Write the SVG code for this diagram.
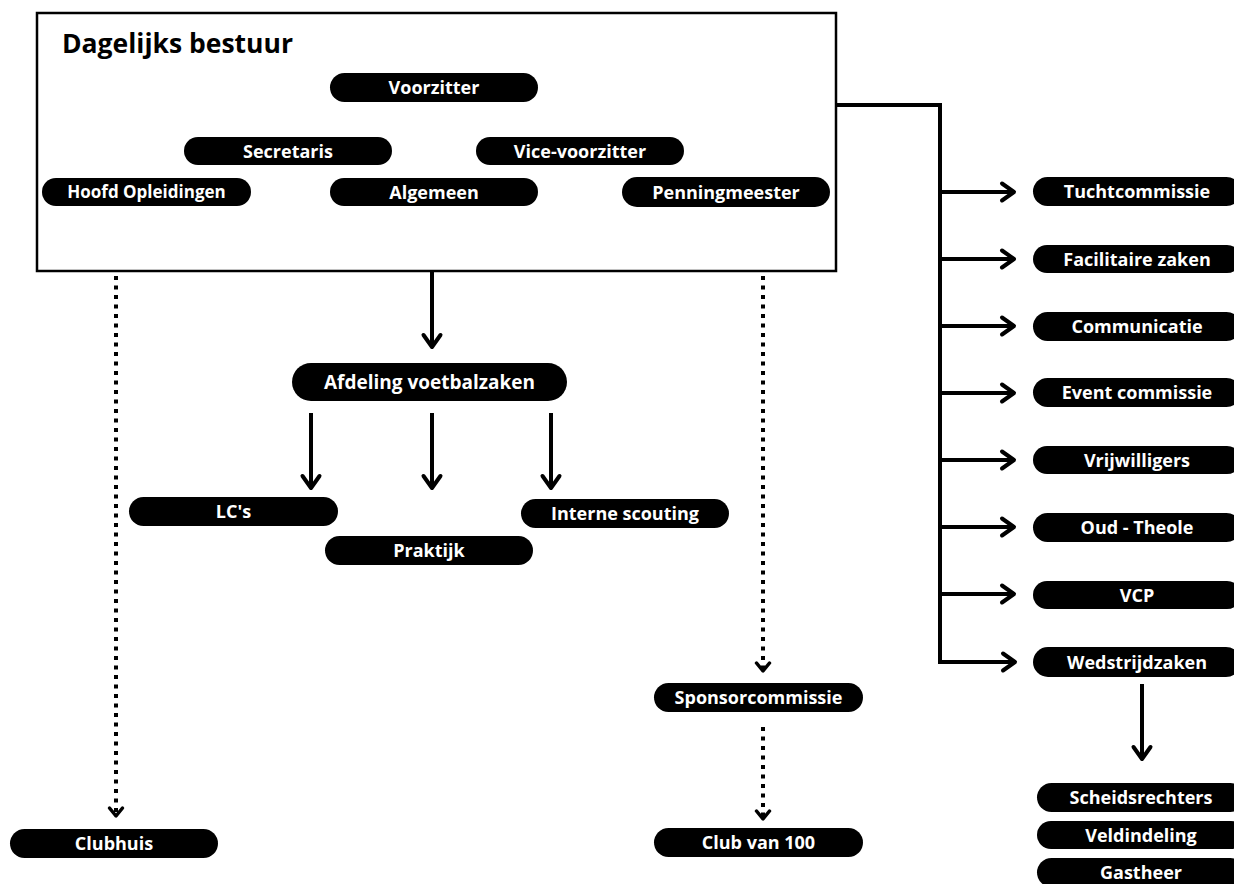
<svg xmlns="http://www.w3.org/2000/svg" width="1234" height="884" viewBox="0 0 1234 884">
<style>
.pill{fill:#000}
.lbl{font-family:"Open Sans","Liberation Sans",sans-serif;font-weight:700;fill:#fff;text-anchor:middle;font-size:18px}
.sm{font-size:17px}
.big{font-size:19px}
.ln{stroke:#000;stroke-width:4;fill:none}
.dot{stroke:#000;stroke-width:4;fill:none;stroke-dasharray:4 5.5}
.title{font-family:"Open Sans","Liberation Sans",sans-serif;font-weight:700;font-size:26.5px;fill:#000}
</style>
<defs>
<marker id="ah" markerUnits="userSpaceOnUse" viewBox="-16 -12 20 24" refX="0" refY="0" markerWidth="20" markerHeight="24" orient="auto">
<path d="M-12,-8.5 L0,0 L-12,8.5" fill="none" stroke="#000" stroke-width="4" stroke-linecap="round" stroke-linejoin="round"/>
</marker>
<marker id="ahs" markerUnits="userSpaceOnUse" viewBox="-16 -12 20 24" refX="0" refY="0" markerWidth="20" markerHeight="24" orient="auto">
<path d="M-8,-6.5 L0,0 L-8,6.5" fill="none" stroke="#000" stroke-width="3.5" stroke-linecap="round" stroke-linejoin="round"/>
</marker>
</defs>
<rect width="1234" height="884" fill="#fff"/>

<g id="connectors">
<path class="ln" d="M836,105 H940 V662"/>
<line class="ln" x1="940" y1="192" x2="1014" y2="192" marker-end="url(#ah)"/>
<line class="ln" x1="940" y1="259" x2="1014" y2="259" marker-end="url(#ah)"/>
<line class="ln" x1="940" y1="326" x2="1014" y2="326" marker-end="url(#ah)"/>
<line class="ln" x1="940" y1="393" x2="1014" y2="393" marker-end="url(#ah)"/>
<line class="ln" x1="940" y1="460" x2="1014" y2="460" marker-end="url(#ah)"/>
<line class="ln" x1="940" y1="527" x2="1014" y2="527" marker-end="url(#ah)"/>
<line class="ln" x1="940" y1="594" x2="1014" y2="594" marker-end="url(#ah)"/>
<path class="ln" d="M938,662 H1015" marker-end="url(#ah)"/>
<line class="ln" x1="1142" y1="684" x2="1142" y2="759" marker-end="url(#ah)"/>
<line class="ln" x1="432" y1="272" x2="432" y2="347" marker-end="url(#ah)"/>
<line class="ln" x1="311" y1="413" x2="311" y2="488" marker-end="url(#ah)"/>
<line class="ln" x1="432" y1="413" x2="432" y2="488" marker-end="url(#ah)"/>
<line class="ln" x1="551" y1="413" x2="551" y2="488" marker-end="url(#ah)"/>
<line class="dot" x1="116" y1="276" x2="116" y2="816" marker-end="url(#ahs)"/>
<line class="dot" x1="763" y1="276" x2="763" y2="671" marker-end="url(#ahs)"/>
<line class="dot" x1="763" y1="727" x2="763" y2="819" marker-end="url(#ahs)"/>
</g>

<g id="dagelijks-bestuur">
<rect x="37" y="13" width="799" height="258" fill="#fff" stroke="#000" stroke-width="2.5"/>
<text class="title" x="62" y="53">Dagelijks bestuur</text>
</g>
<g id="voorzitter"><rect class="pill" x="330" y="73" width="208" height="29" rx="14.5"/><text class="lbl" x="434" y="94">Voorzitter</text></g>
<g id="secretaris"><rect class="pill" x="184" y="137" width="208" height="28" rx="14"/><text class="lbl" x="288" y="157.5">Secretaris</text></g>
<g id="vice-voorzitter"><rect class="pill" x="476" y="137" width="208" height="28" rx="14"/><text class="lbl" x="580" y="157.5">Vice-voorzitter</text></g>
<g id="hoofd-opleidingen"><rect class="pill" x="42" y="178" width="209" height="28" rx="14"/><text class="lbl sm" x="146.5" y="198">Hoofd Opleidingen</text></g>
<g id="algemeen"><rect class="pill" x="330" y="178" width="208" height="28" rx="14"/><text class="lbl" x="434" y="198.5">Algemeen</text></g>
<g id="penningmeester"><rect class="pill" x="622" y="177" width="208" height="30" rx="15"/><text class="lbl" x="726" y="198.5">Penningmeester</text></g>

<g id="afdeling-voetbalzaken"><rect class="pill" x="292" y="363" width="275" height="38" rx="19"/><text class="lbl big" x="429.5" y="389">Afdeling voetbalzaken</text></g>
<g id="lcs"><rect class="pill" x="129" y="497" width="209" height="29" rx="14.5"/><text class="lbl" x="233.5" y="518">LC's</text></g>
<g id="praktijk"><rect class="pill" x="325" y="536" width="208" height="29" rx="14.5"/><text class="lbl" x="429" y="557">Praktijk</text></g>
<g id="interne-scouting"><rect class="pill" x="521" y="499" width="208" height="29" rx="14.5"/><text class="lbl" x="625" y="520">Interne scouting</text></g>

<g id="clubhuis"><rect class="pill" x="10" y="829" width="208" height="29" rx="14.5"/><text class="lbl" x="114" y="850">Clubhuis</text></g>
<g id="sponsorcommissie"><rect class="pill" x="654" y="683" width="209" height="29" rx="14.5"/><text class="lbl" x="758.5" y="704">Sponsorcommissie</text></g>
<g id="club-van-100"><rect class="pill" x="654" y="828" width="209" height="29" rx="14.5"/><text class="lbl" x="758.5" y="849">Club van 100</text></g>

<g id="tuchtcommissie"><rect class="pill" x="1033" y="177" width="208" height="29" rx="14.5"/><text class="lbl" x="1137" y="198">Tuchtcommissie</text></g>
<g id="facilitaire-zaken"><rect class="pill" x="1033" y="245" width="208" height="28" rx="14"/><text class="lbl" x="1137" y="265.5">Facilitaire zaken</text></g>
<g id="communicatie"><rect class="pill" x="1033" y="312" width="208" height="29" rx="14.5"/><text class="lbl" x="1137" y="333">Communicatie</text></g>
<g id="event-commissie"><rect class="pill" x="1033" y="378" width="208" height="29" rx="14.5"/><text class="lbl" x="1137" y="399">Event commissie</text></g>
<g id="vrijwilligers"><rect class="pill" x="1033" y="446" width="208" height="28" rx="14"/><text class="lbl" x="1137" y="466.5">Vrijwilligers</text></g>
<g id="oud-theole"><rect class="pill" x="1033" y="513" width="208" height="29" rx="14.5"/><text class="lbl" x="1137" y="534">Oud - Theole</text></g>
<g id="vcp"><rect class="pill" x="1033" y="581" width="208" height="28" rx="14"/><text class="lbl" x="1137" y="601.5">VCP</text></g>
<g id="wedstrijdzaken"><rect class="pill" x="1033" y="647" width="208" height="30" rx="15"/><text class="lbl" x="1137" y="668.5">Wedstrijdzaken</text></g>
<g id="scheidsrechters"><rect class="pill" x="1037" y="783" width="208" height="29" rx="14.5"/><text class="lbl" x="1141" y="804">Scheidsrechters</text></g>
<g id="veldindeling"><rect class="pill" x="1037" y="821" width="208" height="28" rx="14"/><text class="lbl" x="1141" y="841.5">Veldindeling</text></g>
<g id="gastheer"><rect class="pill" x="1037" y="858" width="208" height="29" rx="14.5"/><text class="lbl" x="1141" y="879">Gastheer</text></g>
</svg>
